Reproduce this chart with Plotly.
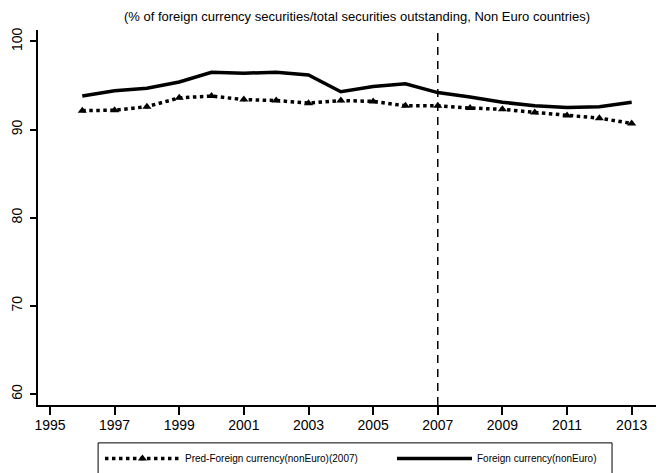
import plotly.graph_objects as go

# data
years = list(range(1996, 2014))
foreign_ccy = [93.8, 94.4, 94.7, 95.4, 96.5, 96.4, 96.5, 96.2, 94.3, 94.9,
               95.2, 94.2, 93.7, 93.1, 92.7, 92.5, 92.6, 93.1]
pred_foreign_ccy = [92.15, 92.2, 92.6, 93.6, 93.8, 93.4, 93.3, 93.0, 93.3, 93.2,
                    92.7, 92.7, 92.45, 92.3, 91.95, 91.6, 91.3, 90.7]
cutoff_year = 2007
x_ticks = list(range(1995, 2014, 2))
y_ticks = [60, 70, 80, 90, 100]

title_text = "(% of foreign currency securities/total securities outstanding, Non Euro countries)"
font_family = "Arial, Liberation Sans, sans-serif"

fig = go.Figure()

# predicted series (dotted with triangles)
fig.add_trace(go.Scatter(
    x=years, y=pred_foreign_ccy, mode='lines+markers',
    name='Pred-Foreign currency(nonEuro)(2007)',
    line=dict(color='black', width=3.5, dash='dot'),
    marker=dict(symbol='triangle-up', size=8, color='black')
))

# actual series (solid)
fig.add_trace(go.Scatter(
    x=years, y=foreign_ccy, mode='lines',
    name='Foreign currency(nonEuro)',
    line=dict(color='black', width=3.5)
))

# cutoff line
fig.add_vline(x=cutoff_year, line=dict(color='black', width=1.5, dash='8px,6px'))

# legend frame (legend itself has no border so the frame can be sized freely)
fig.add_shape(type='rect', xref='paper', yref='paper',
              x0=0.096, x1=0.917, y0=-0.101, y1=-0.2,
              line=dict(color='black', width=1), fillcolor='rgba(0,0,0,0)')

# the page body adds an 8px offset, so the figure is 8px smaller each way
fig.update_layout(
    width=656, height=465,
    margin=dict(l=30, r=0, t=22, b=68, autoexpand=False),
    plot_bgcolor='white', paper_bgcolor='white',
    font=dict(family=font_family, size=12, color='black'),
    title=dict(text=title_text, x=0.532, xanchor='center', y=0.981, yanchor='middle',
               font=dict(size=13, color='black')),
    xaxis=dict(range=[1994.63, 2014.0], tickvals=x_ticks, showgrid=False, zeroline=False,
               showline=True, linecolor='black', linewidth=1.5,
               ticks='outside', ticklen=8, tickwidth=1.5, tickcolor='black',
               tickfont=dict(size=14), ticklabelstandoff=-2),
    yaxis=dict(range=[58.75, 101.3], tickvals=y_ticks, showgrid=False, zeroline=False,
               showline=True, linecolor='black', linewidth=1.5,
               ticks='outside', ticklen=6, tickwidth=1.5, tickcolor='black',
               tickangle=-90, tickfont=dict(size=14), ticklabelstandoff=3),
    showlegend=True,
    legend=dict(orientation='h', x=0.099, xanchor='left', y=-0.104, yanchor='top',
                bgcolor='rgba(0,0,0,0)', borderwidth=0,
                font=dict(size=10), entrywidth=202, itemwidth=75,
                traceorder='normal')
)

fig.write_html("out.html")
